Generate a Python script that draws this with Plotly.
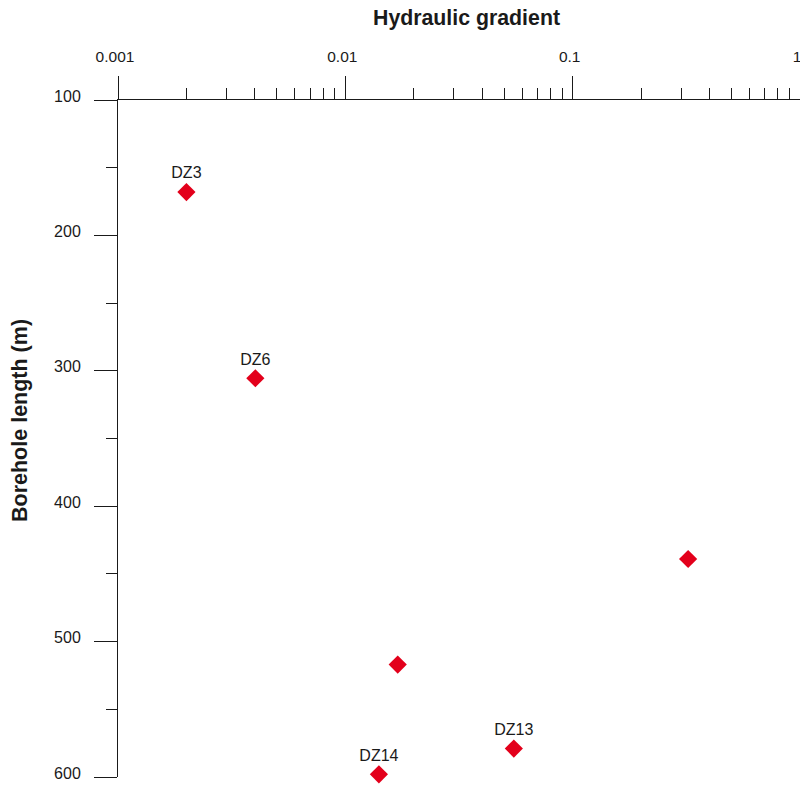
import plotly.graph_objects as go

# Hydraulic gradient vs. borehole length, one marker per test section
gradient = [0.002, 0.00402, 0.322, 0.0170, 0.0551, 0.01405]
borehole_length = [168, 305.5, 439, 517, 579, 598]
section_labels = ["DZ3", "DZ6", "", "", "DZ13", "DZ14"]

x_major = [0.001, 0.01, 0.1, 1]
x_major_text = ["0.001", "0.01", "0.1", "1"]
x_minor = [m * d for d in (0.001, 0.01, 0.1) for m in range(2, 10)]
y_major = [100, 200, 300, 400, 500, 600]
y_minor = [150, 250, 350, 450, 550]

FONT = "Arial, Liberation Sans, sans-serif"
INK = "#1a1a1a"

fig = go.Figure(
    go.Scatter(
        x=gradient,
        y=borehole_length,
        mode="markers+text",
        text=section_labels,
        textposition="top center",
        textfont=dict(family=FONT, size=16, color=INK),
        marker=dict(symbol="diamond", size=14, color="#e3001b", line=dict(width=0)),
        cliponaxis=False,
        hoverinfo="x+y",
    )
)

fig.update_xaxes(
    type="log",
    side="top",
    range=[-3, 0],
    tickmode="array",
    tickvals=x_major,
    ticktext=x_major_text,
    ticks="outside",
    ticklen=23,
    tickwidth=1,
    tickcolor=INK,
    tickfont=dict(family=FONT, size=15.5, color=INK),
    ticklabelstandoff=8,
    ticklabelshift=-3,
    ticklabeloverflow="allow",
    minor=dict(tickvals=x_minor, ticks="outside", ticklen=11, tickwidth=1, tickcolor=INK, showgrid=False),
    showline=True,
    linecolor=INK,
    linewidth=1,
    showgrid=False,
    zeroline=False,
    automargin=False,
)

fig.update_yaxes(
    range=[600, 100],
    tickmode="array",
    tickvals=y_major,
    ticks="outside",
    ticklen=23,
    tickwidth=1,
    tickcolor=INK,
    tickfont=dict(family=FONT, size=16, color=INK),
    ticklabelstandoff=10,
    ticklabelshift=4,
    ticklabeloverflow="allow",
    minor=dict(tickvals=y_minor, ticks="outside", ticklen=11, tickwidth=1, tickcolor=INK, showgrid=False),
    showline=True,
    linecolor=INK,
    linewidth=1,
    showgrid=False,
    zeroline=False,
    automargin=False,
)

fig.update_layout(
    width=800,
    height=785,
    margin=dict(l=118, r=0, t=100, b=8),
    paper_bgcolor="white",
    plot_bgcolor="white",
    showlegend=False,
    annotations=[
        dict(
            text="<b>Hydraulic gradient</b>",
            xref="paper", yref="paper",
            x=(466 - 118) / 682, y=1 + (100 - 18) / 677,
            xanchor="center", yanchor="middle",
            showarrow=False,
            font=dict(family=FONT, size=21.3, color=INK),
        ),
        dict(
            text="<b>Borehole length (m)</b>",
            xref="paper", yref="paper",
            x=-(118 - 20) / 682, y=1 - (420 - 100) / 677,
            xanchor="center", yanchor="middle",
            textangle=-90,
            showarrow=False,
            font=dict(family=FONT, size=21.5, color=INK),
        ),
    ],
)

fig.write_html("out.html")
